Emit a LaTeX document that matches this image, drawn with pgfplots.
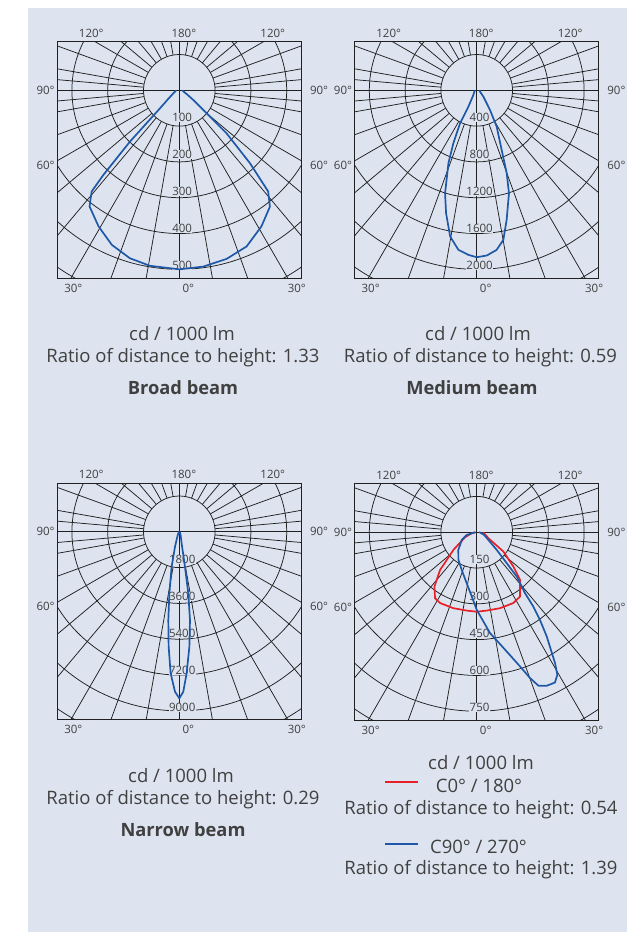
\documentclass[border=0pt]{standalone}
\usepackage{fontspec}
\setmainfont{Open Sans}
\usepackage{pgfplots}
\pgfplotsset{compat=1.18}
\usepackage{pgfplotstable}
\definecolor{panel}{RGB}{221,228,240}
\definecolor{ink}{RGB}{64,64,64}
\definecolor{gridc}{RGB}{32,32,32}
\definecolor{cblue}{RGB}{32,88,168}
\definecolor{cred}{RGB}{232,32,40}

% signed angle from nadir (negative = left half), intensity in cd/1000 lm
\pgfplotstableread{
g I
-90 9
-75 12
-60 22
-52 40
-47 74
-43.9 199
-41.9 318
-40.9 374
-37.7 410
-30.7 442
-23.6 471
-16.4 489
-9.5 497
0 500
7.75 497
15.7 489
23.3 475
31.1 444
37.9 412
41.3 376
44.1 284
47.7 178
49.9 100
55 50
62 25
75 12
90 9
}\broad
\pgfplotstableread{
g I
-90 19
-60 30
-45 45
-35.5 64
-27 205
-26.8 413
-23.8 647
-21.2 874
-17.1 1203
-14 1415
-10.3 1660
-6.55 1794
-2.9 1841
0 1865
3.5 1849
7.1 1797
10.1 1697
13 1486
17.4 1205
19.9 985
22.7 722
28.8 463
34.1 265
46.5 103
60 50
75 35
90 30
}\medium
\pgfplotstableread{
g I
-90 0
-40 60
-25 200
-16.1 784
-12.4 1800
-9.2 3138
-7.1 4472
-5.3 5802
-3.5 7130
-1.55 8041
0 8372
1.43 8040
2.96 7126
5 5799
6.9 4470
8.3 3131
9.2 1781
11.3 598
20 200
40 60
90 0
}\narrow
\pgfplotstableread{
g I
-90 7
-78.7 21
-66.8 53
-52.9 122
-44.2 220
-37.9 288
-32.3 327
-27.3 334
-17.1 333
-7.3 331
0 333
7.3 331
17.1 333
27.3 334
34 325
42.3 270
46.9 210
54.1 138
62.8 55
82.2 31
90 28
}\czero
\pgfplotstableread{
g I
-90 5
-75 43
-62.9 70
-46.1 107
-33.5 139
-21.7 170
-11.1 218
-4.4 270
0 325
7.5 426
14.1 515
17.9 591
20.1 651
21.9 693
24.5 707
27.5 710
29.5 686
30.9 639
33.9 526
35.8 453
37.3 391
38.4 326
42.1 250
44.1 181
48.5 112
56.7 58
70 33
85 14
90 10
}\cninety

\pgfplotsset{
  ldc/.style={
    anchor=south west, x=35.8bp, y=35.8bp,
    xmin=-3.408, xmax=3.400, ymin=-5.251, ymax=1.360,
    xtick=\empty, ytick=\empty,
    axis line style={gridc, line width=1bp}, clip=true,
  },
  curve/.style={line width=1.7bp, line join=round},
}
\tikzset{
  gl/.style={gridc, line width=0.75bp},
  rl/.style={font=\fontsize{11.5bp}{12bp}\selectfont, text=ink, fill=panel, inner sep=0.4bp},
  al/.style={font=\fontsize{11.5bp}{12bp}\selectfont, text=ink, inner sep=0pt},
  captx/.style={font=\fontsize{18.5bp}{20bp}\selectfont, text=ink, anchor=base, inner sep=0pt},
  captb/.style={font=\fontsize{18.3bp}{20bp}\selectfont\bfseries, text=ink, anchor=base, inner sep=0pt},
}

\newcommand\polargrid{%
  \pgfplotsinvokeforeach{1,2,3,4,5,6,7}{\draw[gl] (0,0) circle[radius=##1];}
  \pgfplotsinvokeforeach{5,10,20,30,40,50,60,70,80,100,110,120,130,140,150,160,170,175,185,190,200,210,220,230,240,250,260,280,290,300,310,320,330,340,350,355}{%
    \draw[gl] ({cos(##1)},{sin(##1)}) -- ({12*cos(##1)},{12*sin(##1)});}
  \draw[gl] (0,-8) -- (0,8);
  \draw[gl] (-8,0) -- (8,0);
}
\newcommand\ringlabels[5]{%
  \node[rl] at (0.08,-0.763) {#1};
  \node[rl] at (0.08,-1.797) {#2};
  \node[rl] at (0.08,-2.830) {#3};
  \node[rl] at (0.08,-3.863) {#4};
  \node[rl] at (0.08,-4.897) {#5};
}
% angle labels around a diagram centred at (#1,#2) in bp
\newcommand\anglelabels[2]{%
  \node[al] at (#1-88,#2+57) {120°};
  \node[al] at (#1+4.6,#2+57) {180°};
  \node[al] at (#1+93.5,#2+57) {120°};
  \node[al] at (#1-106,#2-198) {30°};
  \node[al] at (#1+9,#2-198) {0°};
  \node[al] at (#1+117.5,#2-198) {30°};
  \node[al,anchor=east] at (#1-124.5,#2) {90°};
  \node[al,anchor=west] at (#1+130.5,#2) {90°};
  \node[al,anchor=east] at (#1-124.5,#2-75) {60°};
  \node[al,anchor=west] at (#1+130.5,#2-75) {60°};
}

\begin{document}
\begin{tikzpicture}[x=1bp,y=1bp]
\fill[white] (0,0) rectangle (627,-932);
\fill[panel] (28,-8) rectangle (627,-932);

% ---------- Broad beam ----------
\begin{axis}[ldc, at={(57.3bp,-278.3bp)}]
  \polargrid
  \ringlabels{100}{200}{300}{400}{500}
  \addplot[curve, cblue] table[x expr={\thisrow{I}*sin(\thisrow{g})/100}, y expr={-\thisrow{I}*cos(\thisrow{g})/100}] {\broad};
\end{axis}
\anglelabels{179.3}{-90.3}

% ---------- Medium beam ----------
\begin{axis}[ldc, at={(354.7bp,-278.3bp)}]
  \polargrid
  \ringlabels{400}{800}{1200}{1600}{2000}
  \addplot[curve, cblue] table[x expr={\thisrow{I}*sin(\thisrow{g})/400}, y expr={-\thisrow{I}*cos(\thisrow{g})/400}] {\medium};
\end{axis}
\anglelabels{476.7}{-90.3}

% ---------- Narrow beam ----------
\begin{axis}[ldc, at={(57.3bp,-719.8bp)}]
  \polargrid
  \ringlabels{1800}{3600}{5400}{7200}{9000}
  \addplot[curve, cblue] table[x expr={\thisrow{I}*sin(\thisrow{g})/1800}, y expr={-\thisrow{I}*cos(\thisrow{g})/1800}] {\narrow};
\end{axis}
\anglelabels{179.3}{-531.8}

% ---------- Asymmetric ----------
\begin{axis}[ldc, at={(354.7bp,-720.2bp)}]
  \polargrid
  \ringlabels{150}{300}{450}{600}{750}
  \addplot[curve, cred] table[x expr={\thisrow{I}*sin(\thisrow{g})/150}, y expr={-\thisrow{I}*cos(\thisrow{g})/150}] {\czero};
  \addplot[curve, cblue] table[x expr={\thisrow{I}*sin(\thisrow{g})/150}, y expr={-\thisrow{I}*cos(\thisrow{g})/150}] {\cninety};
\end{axis}
\anglelabels{476.7}{-532.2}

% ---------- captions ----------
\node[captx] at (182,-340.5) {cd / 1000 lm};
\node[captx] at (183,-362.5) {Ratio of distance to height: 1.33};
\node[captb] at (183,-394.5) {Broad beam};

\node[captx] at (478,-340.5) {cd / 1000 lm};
\node[captx] at (480.5,-362.5) {Ratio of distance to height: 0.59};
\node[captb] at (472,-394.5) {Medium beam};

\node[captx] at (181,-782.5) {cd / 1000 lm};
\node[captx] at (183,-804.5) {Ratio of distance to height: 0.29};
\node[captb] at (183,-836.5) {Narrow beam};

\node[captx] at (481,-769.3) {cd / 1000 lm};
\draw[cred, line width=1.8bp] (385,-782.3) -- (418,-782.3);
\node[captx] at (479,-792.7) {C0° / 180°};
\node[captx] at (481,-814) {Ratio of distance to height: 0.54};
\draw[cblue, line width=1.8bp] (385,-843.7) -- (418,-843.7);
\node[captx] at (478.5,-853.3) {C90° / 270°};
\node[captx] at (481,-874.7) {Ratio of distance to height: 1.39};
\end{tikzpicture}
\end{document}
